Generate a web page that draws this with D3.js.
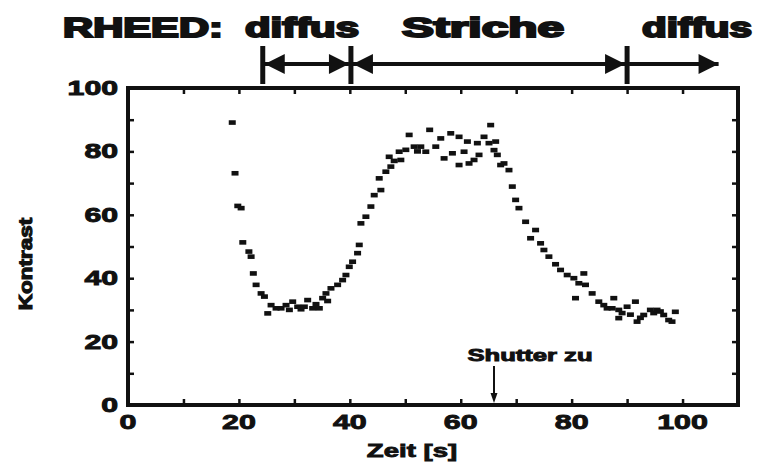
<!DOCTYPE html>
<html>
<head>
<meta charset="utf-8">
<script src="https://cdn.jsdelivr.net/npm/d3@7"></script>
<style>
  body { margin: 0; background: #fff; }
  svg { display: block; }
  text { font-family: "Liberation Sans", Arial, sans-serif; font-weight: bold; fill: #111; }
</style>
</head>
<body>
<svg id="chart" width="759" height="462"></svg>
<script>
// Data
const timeS = [
  18.8, 19.3, 19.8, 20.4, 20.7, 21.8, 22.2, 22.6, 23.1, 24.0,
  24.6, 25.2, 25.8, 26.7, 27.6, 28.5, 29.1, 29.7, 30.6, 31.2,
  31.8, 32.4, 33.3, 33.9, 34.5, 35.1, 35.7, 36.0, 36.6, 37.8,
  38.7, 39.3, 39.9, 40.5, 41.4, 41.7, 42.0, 42.9, 43.8, 44.4,
  45.3, 45.6, 46.5, 47.1, 47.4, 48.0, 48.9, 49.2, 50.1, 50.7,
  51.6, 52.2, 52.8, 53.7, 54.4, 55.5, 56.4, 57.0, 58.2, 58.5,
  59.7, 59.7, 60.6, 61.2, 61.5, 62.4, 63.0, 63.3, 64.2, 65.1,
  65.4, 66.0, 66.3, 66.6, 67.2, 67.8, 68.7, 69.3, 69.9, 70.5,
  71.7, 72.6, 73.5, 74.4, 75.0, 75.9, 77.1, 78.0, 79.2, 80.4,
  80.7, 81.3, 82.2, 82.5, 83.7, 84.9, 85.8, 86.4, 87.3, 87.6,
  88.5, 88.5, 89.1, 90.0, 90.6, 91.5, 91.8, 92.4, 93.0, 94.2,
  94.8, 95.4, 96.0, 96.6, 97.5, 98.1, 98.7
];
const contrast = [
  89.1, 73.1, 62.8, 62.1, 51.3, 48.4, 46.8, 41.5, 37.9, 35.2,
  34.2, 28.9, 31.5, 30.5, 30.5, 31.5, 30.0, 32.6, 31.0, 30.2,
  31.0, 33.1, 30.5, 31.8, 30.5, 33.7, 35.2, 32.8, 36.8, 37.9,
  39.4, 41.0, 43.6, 45.2, 47.9, 50.5, 57.3, 59.4, 62.6, 66.2,
  71.5, 67.8, 73.6, 78.3, 75.2, 77.0, 79.9, 77.3, 80.5, 85.2,
  81.5, 80.0, 81.5, 79.9, 86.8, 81.5, 84.1, 77.8, 85.7, 79.4,
  84.6, 75.7, 79.9, 83.1, 76.2, 77.3, 82.6, 78.9, 84.6, 82.6,
  88.3, 80.4, 83.1, 78.9, 75.7, 76.2, 74.1, 68.9, 64.7, 62.1,
  57.8, 52.6, 55.2, 51.0, 48.9, 46.8, 44.4, 42.6, 41.0, 40.0,
  33.7, 38.4, 41.5, 37.9, 35.2, 32.6, 31.5, 30.5, 30.5, 33.7,
  30.0, 27.4, 29.0, 31.0, 28.5, 32.6, 26.3, 27.5, 28.4, 30.0,
  29.0, 30.0, 29.5, 28.4, 26.8, 26.3, 29.4
];
const xTickLabels = [0, 20, 40, 60, 80, 100];
const yTickLabels = [0, 20, 40, 60, 80, 100];
const phaseNames = ['diffus', 'Striche', 'diffus'];
const phaseBounds = [24.3, 40.2, 90, 106.5];
const shutterTime = 66;

const margin = { top: 88, right: 21, bottom: 57, left: 128 };
const W = 759, H = 462;
const width = W - margin.left - margin.right;
const height = H - margin.top - margin.bottom;
const SX = 1.45; // text in the picture is stretched sideways

const svg = d3.select('#chart');
const g = svg.append('g').attr('transform', `translate(${margin.left},${margin.top})`);

const x = d3.scaleLinear().domain([0, 110]).range([0, width]);
const y = d3.scaleLinear().domain([0, 100]).range([height, 0]);

// stretched text helper
function label(parent, px, py, str, size, anchor, sx, rot) {
  return parent.append('text')
    .attr('transform', `translate(${px},${py})` + (rot ? ` rotate(${rot})` : '') + ` scale(${sx},1)`)
    .attr('text-anchor', anchor)
    .attr('font-size', size)
    .attr('stroke', '#111')
    .attr('stroke-width', 0.9)
    .text(str);
}

// ticks, all pointing inward
const minorX = d3.range(0, 111, 10);
const minorY = d3.range(0, 101, 10);
function ticks(axis, vals, len) {
  return axis.tickValues(vals).tickSize(-len).tickFormat('');
}
const axes = [
  [d3.axisBottom(x), minorX, `translate(0,${height})`],
  [d3.axisTop(x), minorX, 'translate(0,0)'],
  [d3.axisLeft(y), minorY, 'translate(0,0)'],
  [d3.axisRight(y), minorY, `translate(${width},0)`]
];
axes.forEach(([ax, vals, tr]) => {
  const a = g.append('g').attr('transform', tr).call(ticks(ax, vals, 6));
  a.select('.domain').remove();
  a.selectAll('line').attr('stroke', '#111').attr('stroke-width', 2.5);
});

// frame
g.append('rect')
  .attr('x', 0).attr('y', 0)
  .attr('width', width).attr('height', height)
  .attr('fill', 'none')
  .attr('stroke', '#111')
  .attr('stroke-width', 4);

// tick labels
xTickLabels.forEach(v => label(g, x(v), height + 24, v, 21, 'middle', SX));
yTickLabels.forEach(v => label(g, -10, y(v) + 7, v, 19.5, 'end', 1.55));

// axis titles
label(g, 284, height + 52, 'Zeit [s]', 19, 'middle', SX);
label(svg, 32, 264, 'Kontrast', 18, 'middle', 1.25, -90).attr('stroke-width', 1.1);

// data points
g.selectAll('rect.pt')
  .data(timeS.map((t, i) => ({ t, c: contrast[i] })))
  .enter()
  .append('rect')
  .attr('class', 'pt')
  .attr('x', d => x(d.t) - 3.5)
  .attr('y', d => y(d.c) - 2.3)
  .attr('width', 7)
  .attr('height', 4.6)
  .attr('fill', '#111');

// RHEED phase annotation
const annot = svg.append('g');
const titleSpans = [['RHEED:', 63, 160], [phaseNames[0], 245, 114], [phaseNames[1], 402, 162], [phaseNames[2], 642, 110]];
titleSpans.forEach(([s, x0, len]) => {
  annot.append('text')
    .attr('x', x0).attr('y', 37)
    .attr('font-size', 27)
    .attr('textLength', len)
    .attr('lengthAdjust', 'spacingAndGlyphs')
    .attr('stroke', '#111')
    .attr('stroke-width', 2)
    .text(s);
});

const barTop = 46, barBot = 84, arrowY = 64;
const px = v => margin.left + x(v);
phaseBounds.slice(0, 3).forEach(b => {
  annot.append('line')
    .attr('x1', px(b)).attr('x2', px(b))
    .attr('y1', barTop).attr('y2', barBot)
    .attr('stroke', '#111').attr('stroke-width', 5);
});
function head(tipX, dir) {
  const L = 20, h = 10;
  annot.append('path')
    .attr('d', `M${tipX},${arrowY} L${tipX - dir * L},${arrowY - h} L${tipX - dir * L},${arrowY + h} Z`)
    .attr('fill', '#111');
}
for (let i = 0; i < 3; i++) {
  const a = px(phaseBounds[i]) + 2, b = px(phaseBounds[i + 1]) - (i < 2 ? 2 : 0);
  annot.append('line')
    .attr('x1', a).attr('x2', b)
    .attr('y1', arrowY).attr('y2', arrowY)
    .attr('stroke', '#111').attr('stroke-width', 4);
  if (i < 2) head(a, -1);
  head(b, 1);
}

// shutter annotation
label(g, x(shutterTime) + 36, height - 44, 'Shutter zu', 16, 'middle', 1.6);
g.append('line')
  .attr('x1', x(shutterTime)).attr('x2', x(shutterTime))
  .attr('y1', height - 39).attr('y2', height - 6)
  .attr('stroke', '#111').attr('stroke-width', 2);
g.append('path')
  .attr('d', `M${x(shutterTime)},${height - 2} L${x(shutterTime) - 3.5},${height - 12} L${x(shutterTime) + 3.5},${height - 12} Z`)
  .attr('fill', '#111');
</script>
</body>
</html>
